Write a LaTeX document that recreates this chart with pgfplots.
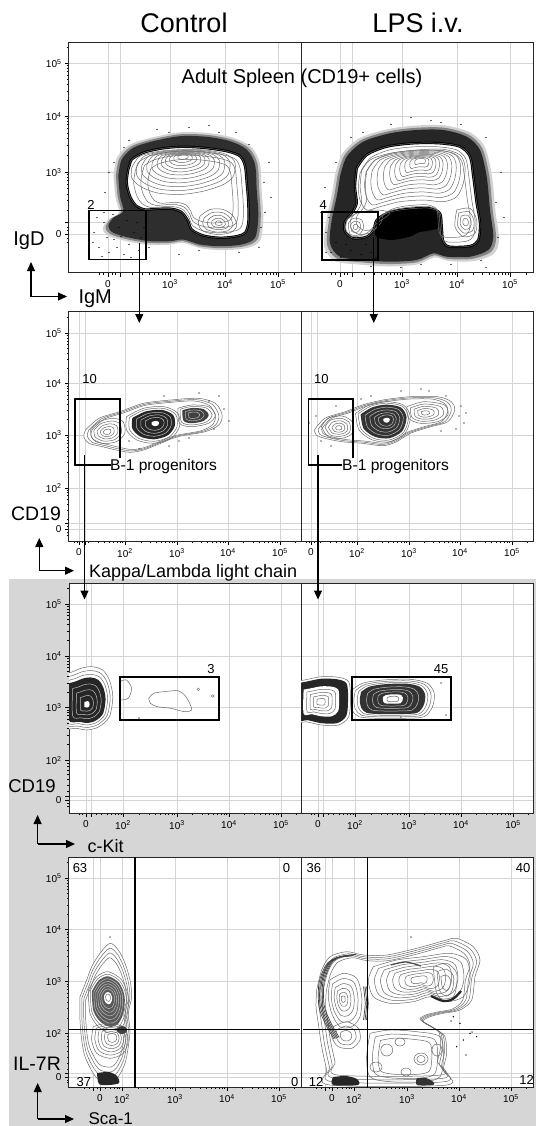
\documentclass[border=0pt]{standalone}
\usepackage{pgfplots}
\pgfplotsset{compat=1.18}
\usepackage{pgfplotstable}
\usepackage{fontspec}
\setmainfont{Liberation Sans}
\usetikzlibrary{arrows.meta}

% contour outlines, panel units: x from the left edge, y from the bottom (1 unit = 1pt)
% --- adult spleen, control
\pgfplotstableread{
x y
61 108
62.7 113
74.3 119.7
91 123.7
111 125.7
134.3 124.7
157.7 121.3
171 116.3
176 106.3
177.7 89.7
179.3 69.7
179.3 49.7
176 39.7
167.7 36.3
151 34.7
134.3 37
122.7 43
119.3 51.3
112.7 60.3
102.7 63.7
89.3 63.7
76 63
67 67
61 76.3
57.7 89.7
59.3 103
61 108
}\aOut
\pgfplotstableread{
x y
49.3 96.3
52.7 113
64.3 124.7
84.3 131.3
111 136.3
137.7 135.7
161 131.3
177.7 123
186 108
187.7 83
189.3 56.3
186 34.7
172.7 28
151 26.3
131 28
114.3 33
101 31.3
81 31.3
61 34.7
44.3 39.7
39.3 46.3
44.3 54.7
54.3 61.3
51 76.3
49.3 96.3
}\aHalo
\pgfplotstableread{
x y
62.7 104.7
71 116.3
91 121.3
114.3 123
137.7 122.3
157.7 118
166 109.7
164.3 96.3
154.3 88
134.3 81.3
111 78
87.7 79.7
71 86.3
62.7 94.7
62.7 104.7
}\aUp
\pgfplotstableread{
x y
131 56.3
141 63
154.3 63
164.3 56.3
167.7 46.3
161 39.7
147.7 38
134.3 41.3
129.3 48
131 56.3
}\aLow
% --- adult spleen, LPS
\pgfplotstableread{
x y
55.7 104.2
65.7 117.5
85.7 125.8
112.3 129.2
139 129.2
159 125.8
169 115.8
172.3 95.8
175.7 69.2
179 49.2
177.3 32.5
169 26.5
149 25.8
142.3 30.8
140.7 45.8
139 59.2
129 64.2
115.7 64.2
99 62.5
85.7 59.2
75.7 52.5
72.3 42.5
65.7 35.8
52.3 34.2
44 40.8
44 50.8
50.7 59.2
55.7 69.2
54 85.8
55.7 104.2
}\bOut
\pgfplotstableread{
x y
39 95.8
45.7 115.8
62.3 130.8
89 139.2
115.7 142.5
142.3 142.5
165.7 135.8
179 122.5
185.7 95.8
189 62.5
192.3 35.8
187.3 22.5
169 15.8
145.7 15.8
132.3 19.2
115.7 12.5
89 10.8
62.3 12.5
39 15.8
29 29.2
30.7 52.5
35.7 75.8
39 95.8
}\bHalo
\pgfplotstableread{
x y
79 55.8
89 62.5
119 65.8
135 60
138 45
117.3 40
109 35.8
89 32.5
74 37.5
79 55.8
}\bWedge
\pgfplotstableread{
x y
59 99.2
69 112.5
89 119.2
115.7 122.5
142.3 123.2
159 117.5
164 105.8
162.3 89.2
155.7 75.8
142.3 70.8
122.3 72.5
99 70.8
79 65.8
65.7 62.5
59 72.5
57.3 85.8
59 99.2
}\bUp
\pgfplotstableread{
x y
47.3 49.2
52.3 54.2
60.7 52.5
62.3 44.2
57.3 37.5
49 38.5
47.3 49.2
}\bLobe
\pgfplotstableread{
x y
45.7 52.5
55.7 59.2
75.7 62.5
89 59.2
75.7 49.2
65.7 39.2
52.3 35.8
45 42.5
45.7 52.5
}\bMid
\pgfplotstableread{
x y
155.7 62.5
169 64.2
175.7 52.5
174 39.2
162.3 35.8
154 45.8
155.7 62.5
}\bRight
% --- light chain, control
\pgfplotstableread{
x y
16.5 111
30.1 122.7
50.7 129.3
74.6 137.7
101.9 141
129.3 142.7
146.4 137.7
153.2 126
149.8 116
136.1 109.3
108.8 104.3
91.7 97.7
74.6 91
60.9 88.7
47.2 91
33.6 94.3
19.9 97.7
14.8 104.3
16.5 111
}\cOut
\pgfplotstableread{
x y
21.6 111
30.1 119.3
43.8 122.7
54.1 119.3
55.8 107.7
47.2 99.3
33.6 97.7
23.3 102.7
21.6 111
}\cLeft
\pgfplotstableread{
x y
57.5 124.3
74.6 132.7
95.1 134.3
108.8 127.7
110.5 114.3
101.9 102.7
84.8 97.7
67.8 101
57.5 111
57.5 124.3
}\cMid
\pgfplotstableread{
x y
108.8 132.7
122.5 136
139.5 134.3
146.4 126
139.5 117.7
122.5 114.3
110.5 117.7
108.8 132.7
}\cRight
% --- light chain, LPS
\pgfplotstableread{
x y
13.5 111
23.8 122.7
44.3 129.3
61.4 136
81.9 141
109.3 144.3
136.6 144.3
150.3 139.3
153.7 131
146.9 119.3
129.8 114.3
109.3 107.7
95.6 99.3
81.9 95.3
61.4 97.7
40.9 99.3
23.8 102.7
15.2 106
13.5 111
}\dOut
\pgfplotstableread{
x y
20.4 114.3
27.2 122.7
40.9 125
51.2 119.3
51.2 107.7
40.9 102.7
27.2 104.3
20.4 114.3
}\dLeft
\pgfplotstableread{
x y
54.6 127.7
68.2 136
85.3 139.3
102.4 136
109.3 124.3
104.1 107.7
88.7 99.3
71.6 101
58 111
54.6 127.7
}\dMid
\pgfplotstableread{
x y
105.8 134.3
122.9 139.3
143.5 136
146.9 126
136.6 119.3
119.5 117.7
107.5 122.7
105.8 134.3
}\dRight
% --- c-Kit, control
\pgfplotstableread{
x y
-8 138
2.8 141
13 145
23.3 146.3
33.6 143
40.4 133
43.8 116.3
40.4 96.3
30.1 86.3
18.2 83
7.9 84.7
-8 88
-8 138
}\eBlob
\pgfplotstableread{
x y
50.7 131.3
57.5 133
62.6 124.7
59.2 114.7
50.7 113
}\eC
\pgfplotstableread{
x y
79.7 114.7
84.8 119.7
95.1 121.3
108.8 122.3
115.6 118
120.7 109.7
122.5 103
115.6 101.3
101.9 104.7
88.3 106.3
81.4 109.7
79.7 114.7
}\eIn
% --- c-Kit, LPS
\pgfplotstableread{
x y
-8 131
3.3 133
20.4 136.3
37.5 135.7
47.7 131.3
49.4 116.3
47.7 96.3
37.5 88
20.4 88
5 91.3
-8 92
-8 131
}\fBlob
\pgfplotstableread{
x y
51.1 123
61.4 129.7
81.9 133
109.3 133.7
126.4 129.7
133.2 119.7
131.5 106.3
123 96.3
102.4 94.7
75 94.7
58 96.3
51.1 103
49.4 113
51.1 123
}\fRight
% --- Sca-1, control
\pgfplotstableread{
x y
11 90.3
17.7 107
22.7 120.3
31 133.7
41 143.7
49.3 137
56 123.7
61 107
62.7 90.3
59.3 73.7
61 57
59.3 40.3
56 23.7
49.3 10.3
42.7 5.3
31 7
24.3 13.7
16 30.3
12.7 47
11 67
11 90.3
}\gOut
\pgfplotstableread{
x y
19.3 97
27.7 110.3
39.3 115.3
52.7 107
59.3 90.3
57.7 70.3
51 57
41 53.7
29.3 60.3
21 73.7
19.3 97
}\gUp
\pgfplotstableread{
x y
24.3 60.3
37.7 63.7
54.3 60.3
59.3 47
54.3 33.7
41 28.7
27.7 33.7
22.7 47
24.3 60.3
}\gLow
\pgfplotstableread{
x y
28 14
40 15
48 11
50 4
40 2
30 3
28 14
}\gPatch
% --- Sca-1, LPS
\pgfplotstableread{
x y
15.7 97
20.7 117
29 130.3
45.7 135.3
62.3 132
85.7 132
115.7 138.7
145.7 147
155.7 148.7
172.3 140.3
179 127
174 110.3
170.7 87
159 77
142.3 73.7
129 70.3
122.3 65.3
135.7 57
144 50.3
145.7 33.7
142.3 17
145.7 2
29 2
25.7 17
20.7 40.3
17.3 63.7
15 80.3
15.7 97
}\hOut
\pgfplotstableread{
x y
29 107
42.3 113.7
55.7 108.7
60.7 90.3
59 70.3
50.7 60.3
39 60.3
30.7 73.7
27.3 90.3
29 107
}\hLeft
\pgfplotstableread{
x y
50 131
35 129
25 122
18 104
18 80
25 62
33 48
}\hCres
\pgfplotstableread{
x y
64 100.3
65.7 83.7
64 67
}\hBand
\pgfplotstableread{
x y
32.3 60.3
45.7 65.3
57.3 58.7
59 47
50.7 38.7
37.3 40.3
30.7 50.3
32.3 60.3
}\hQ
\pgfplotstableread{
x y
72.3 120.3
95.7 127
122.3 130.3
149 133.7
165.7 127
169 107
162.3 90.3
145.7 85.3
129 90.3
112.3 85.3
89 83.7
72.3 90.3
67.3 107
72.3 120.3
}\hUp
\pgfplotstableread{
x y
132.3 120.3
145.7 123.7
155.7 113.7
154 93.7
145.7 85.3
135.7 93.7
132.3 120.3
}\hSub
\pgfplotstableread{
x y
69 53.7
89 57
115.7 55.3
139 50.3
142.3 30.3
139 10.3
122.3 5.3
89 5.3
69 10.3
65.7 30.3
69 53.7
}\hLowR
\pgfplotstableread{
x y
32 10
45 11
56 8
57 2
32 2
32 10
}\hKa
\pgfplotstableread{
x y
115.7 8.7
125 9
132.3 5
132 2
116 2
115.7 8.7
}\hKb
\pgfplotstableread{
x y
1 0
0.87 0.5
0.5 0.87
0 1
-0.5 0.87
-0.87 0.5
-1 0
-0.87 -0.5
-0.5 -0.87
0 -1
0.5 -0.87
0.87 -0.5
1 0
}\unitring

\newcommand\tp[1]{10\textsuperscript{#1}}
% one outline, shrunk towards (cx,cy) by a factor
\newcommand\cshape[5]{\addplot[#1] table[x expr={#3+#5*(\thisrow{x}-#3)}, y expr={#4+#5*(\thisrow{y}-#4)}] {#2};}
\newcommand\crings[4]{\pgfplotsinvokeforeach{#4}{\cshape{ring}{#1}{#2}{#3}{##1}}}
\newcommand\lrings[4]{\pgfplotsinvokeforeach{#4}{\cshape{ring,draw=black!25}{#1}{#2}{#3}{##1}}}
\newcommand\uring[5]{\addplot[#5] table[x expr={#1+#3*\thisrow{x}}, y expr={#2+#4*\thisrow{y}}] {\unitring};}
% a few dark parallel strokes of one open line
\newcommand\strokes[3]{\pgfplotsinvokeforeach{#3}{\addplot[black!75, line width=0.7pt, smooth] table[x expr={\thisrow{x}+##1}, y expr={\thisrow{y}+#2*##1}] {#1};}}

\pgfplotsset{
  flow/.style={
    scale only axis, width=232pt, height=230pt,
    xmin=0, xmax=232, ymin=0, ymax=230,
    anchor=north west,
    axis background/.style={fill=white},
    axis line style={black!85, line width=1pt},
    grid=major, grid style={black!17, line width=0.8pt},
    tick pos=left, tick align=outside,
    major tick length=4pt, minor tick length=2.2pt,
    tick style={black, line width=0.6pt},
    tick label style={font=\fontsize{10}{10}\selectfont},
  },
  noy/.style={yticklabel=\empty, ytick style={draw=none}},
  rowA/.style={
    xtick={39,51,101,156,209}, xticklabels={0,{},\tp3,\tp4,\tp5},
    minor xtick={30,34,43,46,63,73,80,85,89,93,96,99,118,127,134,139,144,148,151,154,172,181,188,193,197,201,204,207,225},
    ytick={38,50,100,156,209}, yticklabels={0,{},\tp3,\tp4,\tp5},
    minor ytick={30,34,42,45,62,72,78,84,88,92,95,98,117,127,134,139,144,148,151,154,172,181,188,193,197,201,204,207,225}},
  rowB/.style={
    xtick={10,16.5,56,108,159,211}, xticklabels={0,{},\tp2,\tp3,\tp4,\tp5},
    minor xtick={5,8,13,19.7,28.8,35.3,40.3,44.5,47.9,51,53.6,72,81,87,92,96.5,100,103,105.6,123.4,132.3,138.7,143.6,147.7,151.1,154.1,156.7,174.7,183.8,190.3,195.3,199.5,202.9,206,208.6,226.7},
    ytick={12,18,53,106,157.5,208}, yticklabels={0,{},\tp2,\tp3,\tp4,\tp5},
    minor ytick={6,9,15,22,31,37,42,46,49,51,69,78.3,84.9,90,94.2,97.8,100.9,103.6,121.5,130.6,137,142,146.1,149.5,152.5,155.1,172.7,181.6,187.9,192.8,196.8,200.2,203.1,205.7,223.3}},
  rowC/.style={
    xtick={17,22.5,54,108,160,212}, xticklabels={0,{},\tp2,\tp3,\tp4,\tp5},
    minor xtick={10,13,27,32,38,42,46,49,52,70.3,79.8,86.5,91.7,96,99.6,102.8,105.5,123.7,132.8,139.3,144.3,148.5,151.9,155,157.6,175.7,184.8,191.3,196.3,200.5,203.9,207,209.6,227.7},
    ytick={13,17,52.5,105.5,157,209}, yticklabels={0,{},\tp2,\tp3,\tp4,\tp5},
    minor ytick={7,10,22,28,34,39,43,47,50,68.5,77.8,84.4,89.5,93.7,97.3,100.4,103.1,121,130.1,136.5,141.5,145.6,149,152,154.6,172.7,181.8,188.3,193.3,197.5,200.9,204,206.6,224.7}},
  rowD/.style={
    xtick={24.5,31,53,106,158,210}, xticklabels={{},0,\tp2,\tp3,\tp4,\tp5},
    minor xtick={15,20,28,36,41,45,48,50.5,69,78.3,84.9,90,94.2,97.8,100.9,103.6,121.7,130.8,137.3,142.3,146.5,149.9,153,155.6,173.7,182.8,189.3,194.3,198.5,201.9,205,207.6,225.7},
    ytick={10,14,53.5,105.5,157.5,209}, yticklabels={0,{},\tp2,\tp3,\tp4,\tp5},
    minor ytick={5,7,18,24,30,36,41,45,48,51,69.2,78.3,84.8,89.8,94,97.4,100.5,103.1,121.2,130.3,136.8,141.8,146,149.4,152.5,155.1,173,182.1,188.5,193.5,197.6,201,204,206.6,224.7}},
  ring/.style={black!58, line width=0.5pt, smooth},
  halo/.style={fill=black!82, draw=none, smooth},
  gate/.style={black, line width=1.8pt, line cap=rect},
  dots/.style={only marks, mark=*, mark size=0.45pt, black},
}
\tikzset{arr/.style={black, line width=1.1pt, -{Triangle[length=9pt,width=8pt]}}}

\begin{document}
\begin{tikzpicture}
\path[use as bounding box] (0,0) rectangle (536pt,-1126pt);
\fill[black!16] (9pt,-579pt) rectangle (536pt,-1126pt);

%% row 1: IgD / IgM
\begin{axis}[flow, rowA, at={(69pt,-42.5pt)}]
\cshape{fill=black!18,draw=none,smooth}{\aHalo}{118}{82}{1.07}
\cshape{fill=black!48,draw=none,smooth}{\aHalo}{118}{82}{1.035}
\addplot[halo] table {\aHalo};
\addplot[dots] coordinates {(25,40) (30,25) (35,50) (40,20) (45,33) (50,45) (55,18) (60,28) (65,40) (70,22) (28,55) (38,35) (48,25) (58,52) (68,50) (33,16) (62,15) (72,35) (44,58) (52,36) (24,30) (75,45) (45,110) (60,132) (100,140) (150,140) (180,128) (195,90) (196,60) (190,25) (130,22) (80,25) (35,60) (40,100) (170,20) (200,110) (120,145) (88,143) (192,45) (36,80) (140,147) (167,140) (202,75) (110,18) (55,125)};
\addplot[fill=white, draw=black, line width=2.4pt, smooth] table {\aOut};
\crings{\aOut}{128}{84}{1,0.9,0.8,0.7}
\crings{\aUp}{114}{117}{1,0.9,0.8,0.7,0.6,0.5,0.42,0.34,0.26,0.18,0.1}
\crings{\aLow}{150}{49}{1,0.78,0.56,0.36,0.18}
\addplot[gate] coordinates {(20.3,13) (77,13) (77,62) (20.3,62) (20.3,13)};
\end{axis}
\begin{axis}[flow, rowA, noy, at={(301pt,-42.5pt)}]
\cshape{fill=black!18,draw=none,smooth}{\bHalo}{112}{78}{1.07}
\cshape{fill=black!48,draw=none,smooth}{\bHalo}{112}{78}{1.035}
\addplot[halo, fill=black!85] table {\bHalo};
\addplot[dots] coordinates {(30,20) (40,15) (25,40) (50,22) (60,18) (35,30) (70,20) (28,55) (45,28) (55,12) (65,28) (75,15) (35,110) (50,135) (90,148) (140,150) (185,135) (195,70) (197,35) (180,12) (120,8) (70,6) (25,20) (20,60) (110,155) (160,148) (24,85) (200,100) (150,8) (100,5) (130,152) (62,140) (203,55) (185,5)};
\addplot[fill=black, draw=none, smooth] table {\bWedge};
\addplot[fill=white, draw=black, line width=2.4pt, smooth] table {\bOut};
\crings{\bOut}{118}{85}{1,0.92,0.84}
\crings{\bUp}{120}{113}{1,0.9,0.8,0.7,0.6,0.5,0.42,0.34,0.26,0.18,0.1}
\crings{\bMid}{62}{48}{1}
\crings{\bLobe}{54.5}{45.5}{1,0.65,0.3}
\crings{\bRight}{164.5}{50.5}{1,0.75,0.5,0.25}
\addplot[gate] coordinates {(21.3,12.5) (77.3,12.5) (77.3,60.8) (21.3,60.8) (21.3,12.5)};
\end{axis}

%% row 2: CD19 / kappa-lambda
\begin{axis}[flow, rowB, at={(69pt,-311pt)}]
\addplot[ring, fill=white] table {\cOut};
\crings{\cOut}{85}{116}{0.95,0.9}
\crings{\cLeft}{38}{109}{1,0.8,0.6,0.4,0.22}
\crings{\cMid}{86.6}{117.7}{1,0.9}
\cshape{fill=black!85,draw=none,smooth}{\cMid}{86.6}{117.7}{0.8}
\lrings{\cMid}{86.6}{117.7}{0.65,0.5,0.35}
\cshape{fill=white,draw=none,smooth}{\cMid}{86.6}{117.7}{0.14}
\crings{\cRight}{124}{126}{1,0.85}
\cshape{fill=black!75,draw=none,smooth}{\cRight}{124}{126}{0.7}
\lrings{\cRight}{124}{126}{0.5,0.3}
\addplot[dots] coordinates {(150,145) (155,132) (160,120) (95,145) (60,100) (130,148) (110,100) (140,140) (145,112) (100,95) (120,103) (70,92)};
\addplot[gate] coordinates {(41,76) (6,76) (6,141.7) (51.3,141.7) (51.3,84.3)};
\end{axis}
\begin{axis}[flow, rowB, noy, at={(301pt,-311pt)}]
\addplot[ring, fill=white] table {\dOut};
\crings{\dOut}{85}{120}{0.95,0.9}
\crings{\dLeft}{38}{113}{1,0.8,0.6,0.4,0.2}
\crings{\dMid}{86}{121}{1,0.92}
\cshape{fill=black!80,draw=none,smooth}{\dMid}{86}{121}{0.84}
\lrings{\dMid}{86}{121}{0.7,0.55,0.4,0.28}
\cshape{fill=white,draw=none,smooth}{\dMid}{86}{121}{0.12}
\crings{\dRight}{124}{128}{1,0.8,0.6,0.4,0.2}
\addplot[dots] coordinates {(15,125) (20,100) (35,135) (60,142) (100,150) (120,152) (145,145) (158,125) (160,135) (163,118) (140,110) (155,112) (8,118) (30,95) (70,145) (165,128) (128,150) (52,95)};
\addplot[gate] coordinates {(40,76) (7.4,76) (7.4,141.7) (51.8,141.7) (51.8,84.3)};
\end{axis}

%% row 3: CD19 / c-Kit
\begin{axis}[flow, rowC, at={(69pt,-583pt)}]
\addplot[ring, fill=white] table {\eBlob};
\crings{\eBlob}{18}{108}{0.9,0.8}
\cshape{fill=black!85,draw=none,smooth}{\eBlob}{18}{108}{0.72}
\lrings{\eBlob}{18}{108}{0.55,0.4,0.25}
\cshape{fill=white,draw=none,smooth}{\eBlob}{18}{108}{0.1}
\addplot[ring] table {\eC};
\addplot[ring] table {\eIn};
\addplot[only marks, mark=o, mark size=1.3pt, black!60] coordinates {(129.3,123.7) (143.7,117)};
\addplot[dots] coordinates {(70,95)};
\addplot[gate] coordinates {(50.7,93) (149.8,93) (149.8,135.7) (50.7,135.7) (50.7,93)};
\end{axis}
\begin{axis}[flow, rowC, noy, at={(301pt,-583pt)}]
\addplot[ring, fill=white] table {\fBlob};
\cshape{fill=black!85,draw=none,smooth}{\fBlob}{20}{111}{0.92}
\cshape{fill=white,draw=none,smooth}{\fBlob}{20}{111}{0.62}
\crings{\fBlob}{20}{111}{0.5,0.38,0.26,0.14}
\addplot[ring, fill=white] table {\fRight};
\crings{\fRight}{92}{114}{0.92,0.84}
\cshape{fill=black!80,draw=none,smooth}{\fRight}{92}{114}{0.78}
\lrings{\fRight}{92}{114}{0.62,0.48,0.36}
\cshape{fill=white,draw=none,smooth}{\fRight}{92}{114}{0.24}
\crings{\fRight}{92}{114}{0.14}
\addplot[dots] coordinates {(140,130) (145,98) (100,96)};
\addplot[gate] coordinates {(51,93) (150.3,93) (150.3,135.7) (51,135.7) (51,93)};
\end{axis}

%% row 4: IL-7R / Sca-1
\begin{axis}[flow, rowD, at={(69pt,-857pt)}]
\addplot[ring, fill=white] table {\gOut};
\crings{\gOut}{38}{75}{0.93,0.86,0.79}
\crings{\gUp}{39}{90}{1,0.9}
\cshape{fill=black!65,draw=none,smooth}{\gUp}{39}{90}{0.82}
\lrings{\gUp}{39}{90}{0.72,0.62,0.52,0.42,0.32}
\cshape{fill=white,draw=none,smooth}{\gUp}{39}{90}{0.2}
\crings{\gUp}{39}{90}{0.12}
\crings{\gLow}{44}{50}{1,0.85,0.7,0.55,0.4,0.25}
\uring{53}{57}{5}{4}{fill=black!75,draw=none,smooth}
\addplot[fill=black!85, draw=none, smooth] table {\gPatch};
\addplot[dots] coordinates {(41,150)};
\addplot[gate] coordinates {(66,-5) (66,235)};
\addplot[gate] coordinates {(0,57.5) (230,57.5)};
\end{axis}
\begin{axis}[flow, rowD, noy, at={(301pt,-857pt)}]
\addplot[ring, fill=white] table {\hOut};
\crings{\hOut}{95}{85}{0.96,0.92,0.88}
\crings{\hLowR}{104}{30}{1,0.85,0.7}
\uring{85.7}{37}{6}{6}{ring}
\uring{99}{45}{5}{4}{ring}
\uring{120}{28}{7}{6}{ring}
\uring{120}{28}{4}{3.5}{ring}
\uring{136}{37}{5}{6}{ring}
\uring{75}{20}{6}{5}{ring}
\uring{105}{15}{5}{4}{ring}
\crings{\hLeft}{42}{88}{1,0.8,0.6,0.42,0.26,0.12}
\strokes{\hCres}{0.3}{0,1.3,2.6,3.9,5.2}
\strokes{\hBand}{0}{-1.5,0,1.5}
\crings{\hQ}{45}{51}{1,0.7,0.4}
\crings{\hUp}{118}{107}{1,0.88,0.76,0.64,0.52,0.4,0.28,0.16}
\crings{\hSub}{145}{104}{1,0.7,0.4}
\addplot[black!85, line width=2.2pt, smooth] coordinates {(130,91) (142,86) (152,88) (160,96)};
\addplot[black!70, line width=1.2pt, smooth] coordinates {(90,122) (105,125) (120,121)};
\addplot[fill=black!85, draw=none, smooth] table {\hKa};
\addplot[fill=black!80, draw=none, smooth] table {\hKb};
\addplot[dots] coordinates {(152.3,70.3) (159,63.7) (169,53.7) (175.7,50.3) (155.7,40.3) (162.3,47) (171,55) (165,32) (150,66) (110,150)};
\addplot[gate] coordinates {(66.5,-5) (66.5,235)};
\addplot[gate] coordinates {(3,57.5) (230.6,57.5)};
\end{axis}

%% titles, labels, gate numbers
\node[font=\fontsize{27}{30}\selectfont, anchor=base] at (184pt,-33pt) {Control};
\node[font=\fontsize{27}{30}\selectfont, anchor=base] at (418pt,-33pt) {LPS i.v.};
\node[font=\fontsize{20}{22}\selectfont, anchor=base] at (302pt,-84pt) {Adult Spleen (CD19+ cells)};
\node[font=\fontsize{20}{22}\selectfont, anchor=base] at (29pt,-245pt) {IgD};
\node[font=\fontsize{20}{22}\selectfont, anchor=base west] at (75pt,-303pt) {IgM};
\node[font=\fontsize{19.5}{22}\selectfont, anchor=base] at (36pt,-520pt) {CD19};
\node[font=\fontsize{18}{20}\selectfont, anchor=base west] at (85.5pt,-577pt) {Kappa/Lambda light chain};
\node[font=\fontsize{18.5}{21}\selectfont, anchor=base] at (32pt,-792pt) {CD19};
\node[font=\fontsize{18}{20}\selectfont, anchor=base west] at (84pt,-852pt) {c-Kit};
\node[font=\fontsize{19.5}{22}\selectfont, anchor=base] at (37pt,-1070pt) {IL-7R};
\node[font=\fontsize{17}{20}\selectfont, anchor=base west] at (85pt,-1124.5pt) {Sca-1};

\begin{scope}[every node/.style={font=\fontsize{13}{14}\selectfont}]
\node at (91pt,-205pt) {2};
\node at (323.3pt,-205pt) {4};
\node at (89.6pt,-379.3pt) {10};
\node at (321.4pt,-379.3pt) {10};
\node at (211pt,-669pt) {3};
\node at (441pt,-669pt) {45};
\node at (80pt,-868pt) {63};
\node at (286.5pt,-868pt) {0};
\node at (83.8pt,-1082pt) {37};
\node at (294.7pt,-1082pt) {0};
\node at (313.8pt,-868pt) {36};
\node at (523pt,-868pt) {40};
\node at (316pt,-1082pt) {12};
\node at (526.5pt,-1080pt) {12};
\end{scope}
\node[font=\fontsize{15.6}{17}\selectfont, anchor=west, inner sep=0pt] at (110pt,-466.7pt) {B-1 progenitors};
\node[font=\fontsize{15.6}{17}\selectfont, anchor=west, inner sep=0pt] at (342pt,-466.7pt) {B-1 progenitors};

%% gating arrows and axis arrows
\draw[arr] (139.3pt,-243pt) -- (139.3pt,-323pt);
\draw[arr] (373.8pt,-237pt) -- (373.8pt,-323pt);
\draw[arr] (84.5pt,-455pt) -- (84.5pt,-599.5pt);
\draw[arr] (318pt,-455pt) -- (318pt,-599.5pt);
\draw[arr] (31pt,-296.5pt) -- (31pt,-262pt);
\draw[arr] (31pt,-296.5pt) -- (67pt,-296.5pt);
\draw[arr] (39.3pt,-570.7pt) -- (39.3pt,-538pt);
\draw[arr] (39.3pt,-570.7pt) -- (74pt,-570.7pt);
\draw[arr] (37.6pt,-844pt) -- (37.6pt,-815pt);
\draw[arr] (37.6pt,-844pt) -- (75pt,-844pt);
\draw[arr] (37.7pt,-1119pt) -- (37.7pt,-1083pt);
\draw[arr] (37.7pt,-1119pt) -- (74pt,-1119pt);
\end{tikzpicture}
\end{document}
